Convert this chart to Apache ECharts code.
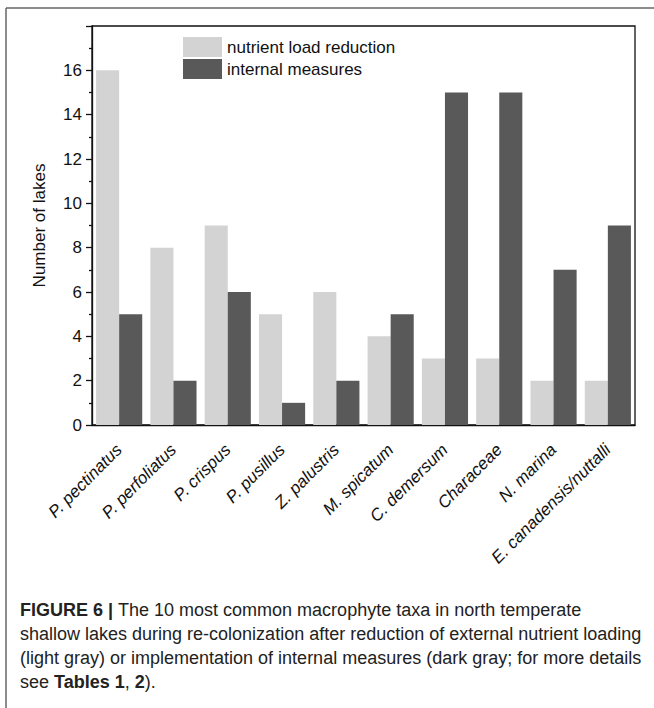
<!DOCTYPE html>
<html>
<head>
<meta charset="utf-8">
<script src="https://cdn.jsdelivr.net/npm/echarts@6/dist/echarts.min.js"></script>
<style>
html,body{margin:0;padding:0;background:#fff;}
#chart{width:654px;height:708px;}
</style>
</head>
<body>
<div id="chart"></div>
<script>
const categories = ['P. pectinatus','P. perfoliatus','P. crispus','P. pusillus','Z. palustris','M. spicatum','C. demersum','Characeae','N. marina','E. canadensis/nuttalli'];
const nutrientLoadReduction = [16, 8, 9, 5, 6, 4, 3, 3, 2, 2];
const internalMeasures = [5, 2, 6, 1, 2, 5, 15, 15, 7, 9];
const seriesNames = ['nutrient load reduction', 'internal measures'];
const yAxisName = 'Number of lakes';
const captionLines = [
  'The 10 most common macrophyte taxa in north temperate',
  'shallow lakes during re-colonization after reduction of external nutrient loading',
  '(light gray) or implementation of internal measures (dark gray; for more details',
  'see '
];

const chart = echarts.init(document.getElementById('chart'), null, {renderer: 'svg'});
const FONT = '"Liberation Sans", Arial, sans-serif';
const captionText = '{b|FIGURE 6 | }' + '{n|' + captionLines[0] + '}\n' +
  '{n|' + captionLines[1] + '}\n' +
  '{n|' + captionLines[2] + '}\n' +
  '{n|' + captionLines[3] + '}{b|Tables 1}{n|, }{b|2}{n|).}';

chart.setOption({
  animation: false,
  backgroundColor: '#fff',
  textStyle: {fontFamily: FONT},
  legend: {
    left: 178, top: 32, orient: 'vertical', itemWidth: 39, itemHeight: 20, itemGap: 2,
    icon: 'rect', textStyle: {fontSize: 17, lineHeight: 20, color: '#111', fontFamily: FONT},
    data: seriesNames
  },
  grid: {left: 92, right: 19, top: 26, bottom: 283, show: true, borderColor: '#111', borderWidth: 1.3, backgroundColor: 'transparent'},
  xAxis: {
    type: 'category', data: categories,
    axisLine: {lineStyle: {color: '#111', width: 1.3}},
    axisTick: {alignWithLabel: true, length: 8, lineStyle: {color: '#111', width: 1.3}},
    axisLabel: {rotate: 45, fontSize: 17, fontStyle: 'italic', color: '#111', margin: 22, fontFamily: FONT, interval: 0}
  },
  yAxis: {
    type: 'value', min: 0, max: 18, interval: 2,
    name: yAxisName, nameLocation: 'middle', nameGap: 44, nameRotate: 90,
    nameTextStyle: {fontSize: 17, color: '#111', fontFamily: FONT},
    axisLine: {show: true, lineStyle: {color: '#111', width: 1.3}},
    axisTick: {show: true, length: 6, lineStyle: {color: '#111', width: 1.3}},
    minorTick: {show: true, splitNumber: 2, length: 3, lineStyle: {color: '#111', width: 1.3}},
    splitLine: {show: false},
    axisLabel: {fontSize: 17, color: '#111', margin: 10, fontFamily: FONT,
      formatter: function (v) { return v === 18 ? '' : String(v); }}
  },
  series: [
    {name: seriesNames[0], type: 'bar', data: nutrientLoadReduction, itemStyle: {color: '#d3d3d3'}, barGap: '0%', barCategoryGap: '15%'},
    {name: seriesNames[1], type: 'bar', data: internalMeasures, itemStyle: {color: '#595959'}, barGap: '0%', barCategoryGap: '15%'}
  ],
  graphic: [
    {type: 'line', shape: {x1: 6, y1: 8, x2: 654, y2: 8}, style: {stroke: '#666', lineWidth: 1.5}},
    {type: 'line', shape: {x1: 6, y1: 8, x2: 6, y2: 708}, style: {stroke: '#666', lineWidth: 1.5}},
    {type: 'text', left: 20, top: 598, style: {
      text: captionText, fontFamily: FONT, fontSize: 18, lineHeight: 24, fill: '#222',
      rich: {
        b: {fontWeight: 'bold', fontSize: 18, lineHeight: 24, fill: '#222', fontFamily: FONT},
        n: {fontSize: 18, lineHeight: 24, fill: '#222', fontFamily: FONT}
      }
    }}
  ]
});
</script>
</body>
</html>
